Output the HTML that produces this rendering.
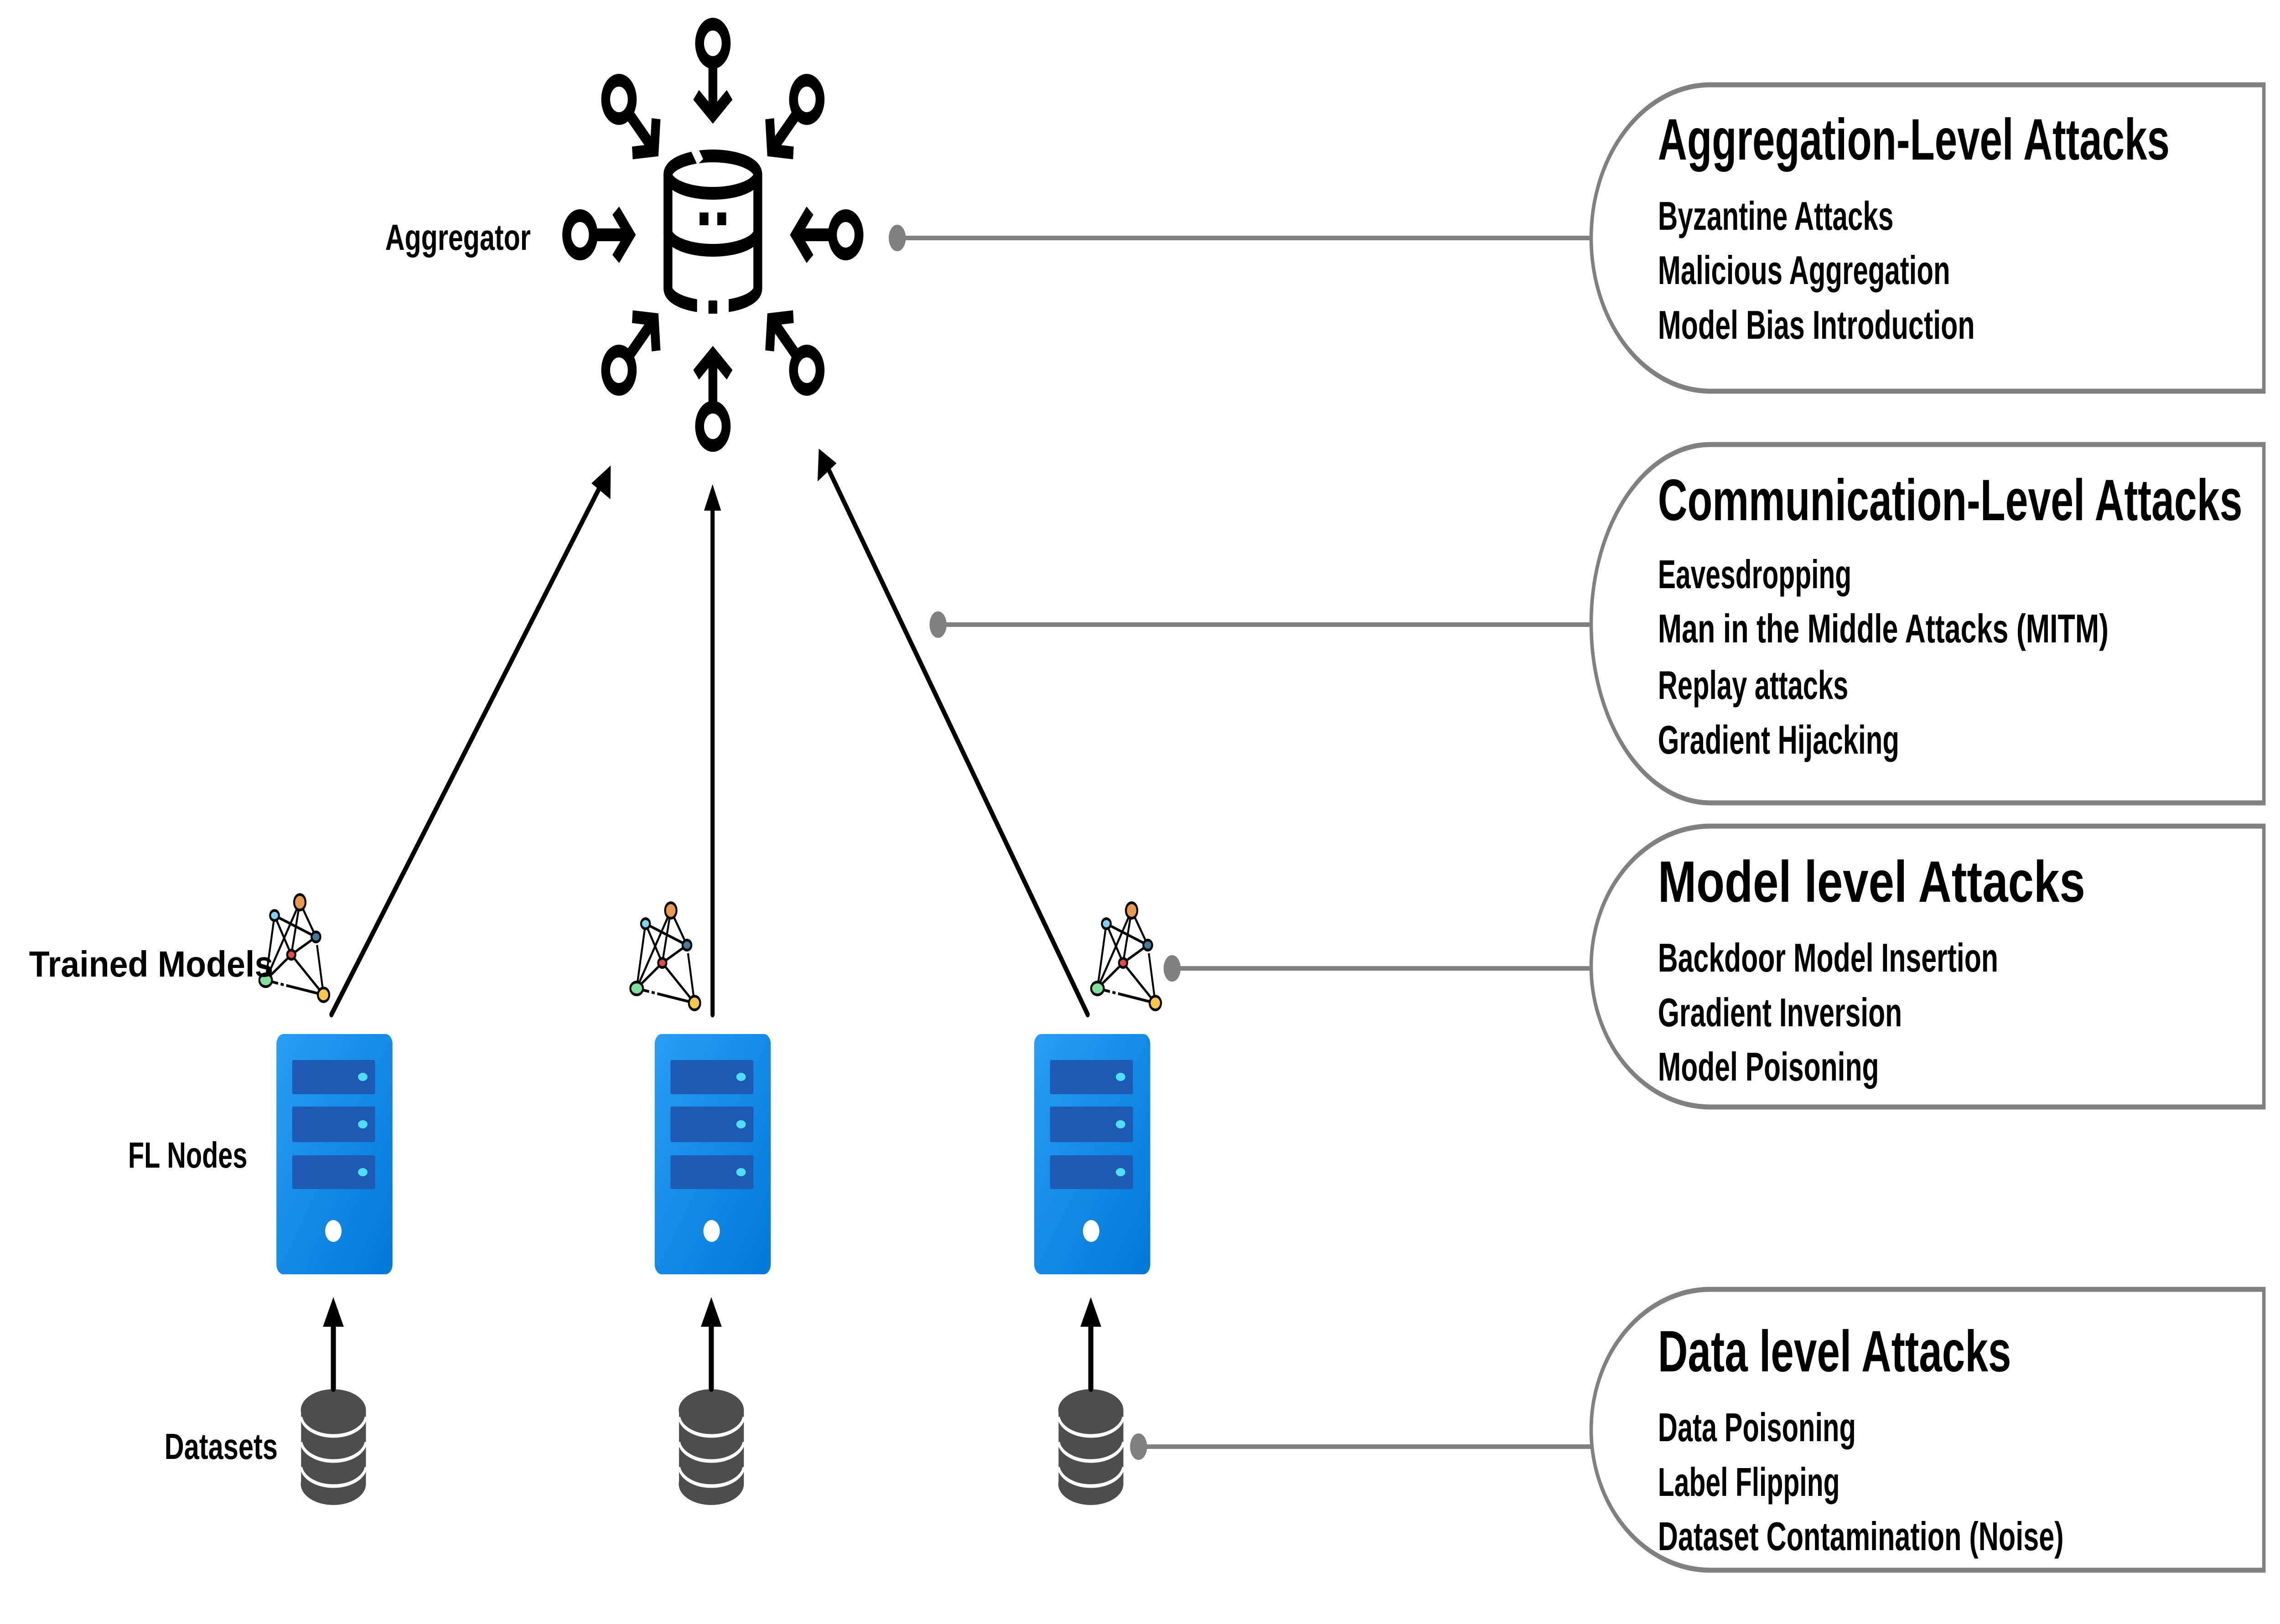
<!DOCTYPE html>
<html><head><meta charset="utf-8"><style>
html,body{margin:0;padding:0;background:#fff;width:100%;height:100%;overflow:hidden;}
svg{position:fixed;left:0;top:0;width:100vw;height:100vh;display:block;}
text{font-family:"Liberation Sans",sans-serif;font-weight:bold;fill:#000;}
</style></head><body>
<svg viewBox="0 0 7209 3562" preserveAspectRatio="none" xmlns="http://www.w3.org/2000/svg">
<defs>
<linearGradient id="sg" x1="0" y1="0" x2="1" y2="1">
<stop offset="0" stop-color="#2A9DF4"/><stop offset="1" stop-color="#0078D7"/>
</linearGradient>
<g id="arr">
<circle cx="0" cy="-420" r="42" fill="none" stroke="#000" stroke-width="28"/>
<line x1="0" y1="-378" x2="0" y2="-262" stroke="#000" stroke-width="28"/>
<polyline points="-53,-307 0,-262 53,-307" fill="none" stroke="#000" stroke-width="28" stroke-linejoin="miter"/>
</g>
<g id="server">
<rect x="874" y="2268" width="367" height="527" rx="22" fill="url(#sg)"/>
<rect x="924" y="2325" width="262" height="75" rx="4" fill="#1D5AB5"/>
<rect x="924" y="2427" width="262" height="78" rx="4" fill="#1D5AB5"/>
<rect x="924" y="2534" width="262" height="74" rx="4" fill="#1D5AB5"/>
<ellipse cx="1147" cy="2362" rx="15" ry="9" fill="#50DDF7"/>
<ellipse cx="1147" cy="2466" rx="15" ry="9" fill="#50DDF7"/>
<ellipse cx="1147" cy="2571" rx="15" ry="9" fill="#50DDF7"/>
<ellipse cx="1054" cy="2700" rx="26" ry="24" fill="#fff"/>
</g>
<g id="db">
<rect x="952" y="3093" width="205" height="162" fill="#4D4D4D"/>
<ellipse cx="1054" cy="3093" rx="103" ry="46" fill="#4D4D4D"/>
<ellipse cx="1054" cy="3255" rx="103" ry="46" fill="#4D4D4D"/>
<path d="M952,3108 A103,46 0 0 0 1157,3108" fill="none" stroke="#fff" stroke-width="8"/>
<path d="M952,3163 A103,46 0 0 0 1157,3163" fill="none" stroke="#fff" stroke-width="8"/>
<path d="M952,3218 A103,46 0 0 0 1157,3218" fill="none" stroke="#fff" stroke-width="8"/>
<line x1="1054" y1="3045" x2="1054" y2="2900" stroke="#000" stroke-width="16" stroke-linecap="round"/>
<polygon points="1021,2910 1054,2845 1087,2910" fill="#000"/>
</g>
<g id="net" stroke="#000" stroke-width="6">
<line x1="868" y1="2008" x2="999" y2="2055"/>
<line x1="868" y1="2008" x2="921" y2="2094"/>
<line x1="868" y1="2008" x2="840" y2="2150"/>
<line x1="948" y1="1979" x2="840" y2="2150"/>
<line x1="948" y1="1979" x2="921" y2="2094"/>
<line x1="948" y1="1979" x2="999" y2="2055"/>
<line x1="840" y1="2150" x2="921" y2="2094"/>
<line x1="921" y1="2094" x2="999" y2="2055"/>
<line x1="921" y1="2094" x2="1023" y2="2182"/>
<line x1="840" y1="2150" x2="1023" y2="2182" stroke-dasharray="40,8,10,8,200"/>
<line x1="999" y1="2055" x2="1023" y2="2182" stroke-dasharray="10,8,200"/>
<ellipse cx="948" cy="1979" rx="18" ry="17" fill="#E89B4F"/>
<ellipse cx="868" cy="2008" rx="14" ry="11" fill="#7FD3F0"/>
<ellipse cx="999" cy="2055" rx="14" ry="11" fill="#457B9D"/>
<ellipse cx="921" cy="2094" rx="13" ry="10" fill="#E84A4A"/>
<ellipse cx="840" cy="2150" rx="20" ry="14" fill="#7FDF9B"/>
<ellipse cx="1023" cy="2182" rx="18" ry="15" fill="#F8C84A"/>
</g>
</defs>

<g transform="translate(2254,515)">
<use href="#arr"/>
<use href="#arr" transform="rotate(45)"/>
<use href="#arr" transform="rotate(90)"/>
<use href="#arr" transform="rotate(135)"/>
<use href="#arr" transform="rotate(180)"/>
<use href="#arr" transform="rotate(225)"/>
<use href="#arr" transform="rotate(270)"/>
<use href="#arr" transform="rotate(315)"/>
<g fill="none" stroke="#000" stroke-width="28">
<ellipse cx="0" cy="-132" rx="142" ry="41"/>
<line x1="-142" y1="-132" x2="-142" y2="117"/>
<line x1="142" y1="-132" x2="142" y2="117"/>
<path d="M-142,-7 A142,41 0 0 0 142,-7"/>
<path d="M-142,117 A142,41 0 0 0 142,117"/>
</g>
<line x1="-60" y1="-190" x2="-40" y2="-160" stroke="#fff" stroke-width="22"/>
<rect x="-50" y="140" width="38" height="40" fill="#fff"/>
<rect x="12" y="140" width="38" height="40" fill="#fff"/>
<rect x="-42" y="-49" width="28" height="28" fill="#000"/>
<rect x="14" y="-49" width="28" height="28" fill="#000"/>
<rect x="-14" y="145" width="28" height="28" fill="#000"/>
</g>

<g stroke="#000" stroke-width="13" stroke-linecap="round">
<line x1="1048" y1="2225" x2="1905" y2="1057"/>
<line x1="2253" y1="2225" x2="2253" y2="1110"/>
<line x1="3439" y1="2225" x2="2614" y2="1021"/>
</g>
<polygon points="1931,1021 1870,1060 1930,1095" fill="#000"/>
<polygon points="2253,1062 2226,1120 2280,1120" fill="#000"/>
<polygon points="2589,984 2585,1056 2645,1016" fill="#000"/>

<use href="#server"/>
<use href="#server" transform="translate(1196,0)"/>
<use href="#server" transform="translate(2396,0)"/>
<use href="#db"/>
<use href="#db" transform="translate(1195,0)"/>
<use href="#db" transform="translate(2395,0)"/>
<use href="#net"/>
<use href="#net" transform="translate(1173,18)"/>
<use href="#net" transform="translate(2630,18)"/>

<text x="1218" y="548" font-size="80" textLength="460" lengthAdjust="spacingAndGlyphs">Aggregator</text>
<text x="92" y="2142" font-size="80" textLength="772" lengthAdjust="spacingAndGlyphs">Trained Models</text>
<text x="405" y="2561" font-size="80" textLength="377" lengthAdjust="spacingAndGlyphs">FL Nodes</text>
<text x="520" y="3200" font-size="80" textLength="358" lengthAdjust="spacingAndGlyphs">Datasets</text>

<g stroke="#808080" stroke-width="10" fill="#808080">
<line x1="2837" y1="522" x2="5046" y2="522"/><ellipse cx="2837" cy="522" rx="22" ry="24"/>
<line x1="2966" y1="1370" x2="5046" y2="1370"/><ellipse cx="2966" cy="1370" rx="22" ry="24"/>
<line x1="3706" y1="2124" x2="5046" y2="2124"/><ellipse cx="3706" cy="2124" rx="22" ry="24"/>
<line x1="3600" y1="3173" x2="5046" y2="3173"/><ellipse cx="3600" cy="3173" rx="22" ry="24"/>
</g>

<g fill="#fff" stroke="#808080" stroke-width="11">
<path d="M5408,186 L7158,186 L7158,858 L5408,858 A377,336 0 0 1 5408,186 Z"/>
<path d="M5408,975 L7158,975 L7158,1761 L5408,1761 A377,393 0 0 1 5408,975 Z"/>
<path d="M5408,1812 L7158,1812 L7158,2428 L5408,2428 A377,308 0 0 1 5408,1812 Z"/>
<path d="M5408,2828 L7158,2828 L7158,3444 L5408,3444 A377,308 0 0 1 5408,2828 Z"/>
</g>

<g font-size="128">
<text x="5242" y="350" textLength="1618" lengthAdjust="spacingAndGlyphs">Aggregation-Level Attacks</text>
<text x="5242" y="1141" textLength="1848" lengthAdjust="spacingAndGlyphs">Communication-Level Attacks</text>
<text x="5242" y="1978" textLength="1351" lengthAdjust="spacingAndGlyphs">Model level Attacks</text>
<text x="5242" y="3008" textLength="1117" lengthAdjust="spacingAndGlyphs">Data level Attacks</text>
</g>
<g font-size="88">
<text x="5242" y="504" textLength="745" lengthAdjust="spacingAndGlyphs">Byzantine Attacks</text>
<text x="5242" y="623" textLength="924" lengthAdjust="spacingAndGlyphs">Malicious Aggregation</text>
<text x="5242" y="743" textLength="1002" lengthAdjust="spacingAndGlyphs">Model Bias Introduction</text>
<text x="5242" y="1290" textLength="612" lengthAdjust="spacingAndGlyphs">Eavesdropping</text>
<text x="5242" y="1409" textLength="1425" lengthAdjust="spacingAndGlyphs">Man in the Middle Attacks (MITM)</text>
<text x="5242" y="1533" textLength="602" lengthAdjust="spacingAndGlyphs">Replay attacks</text>
<text x="5242" y="1653" textLength="763" lengthAdjust="spacingAndGlyphs">Gradient Hijacking</text>
<text x="5242" y="2131" textLength="1076" lengthAdjust="spacingAndGlyphs">Backdoor Model Insertion</text>
<text x="5242" y="2251" textLength="772" lengthAdjust="spacingAndGlyphs">Gradient Inversion</text>
<text x="5242" y="2370" textLength="699" lengthAdjust="spacingAndGlyphs">Model Poisoning</text>
<text x="5242" y="3161" textLength="626" lengthAdjust="spacingAndGlyphs">Data Poisoning</text>
<text x="5242" y="3281" textLength="575" lengthAdjust="spacingAndGlyphs">Label Flipping</text>
<text x="5242" y="3400" textLength="1283" lengthAdjust="spacingAndGlyphs">Dataset Contamination (Noise)</text>
</g>
</svg>
</body></html>
